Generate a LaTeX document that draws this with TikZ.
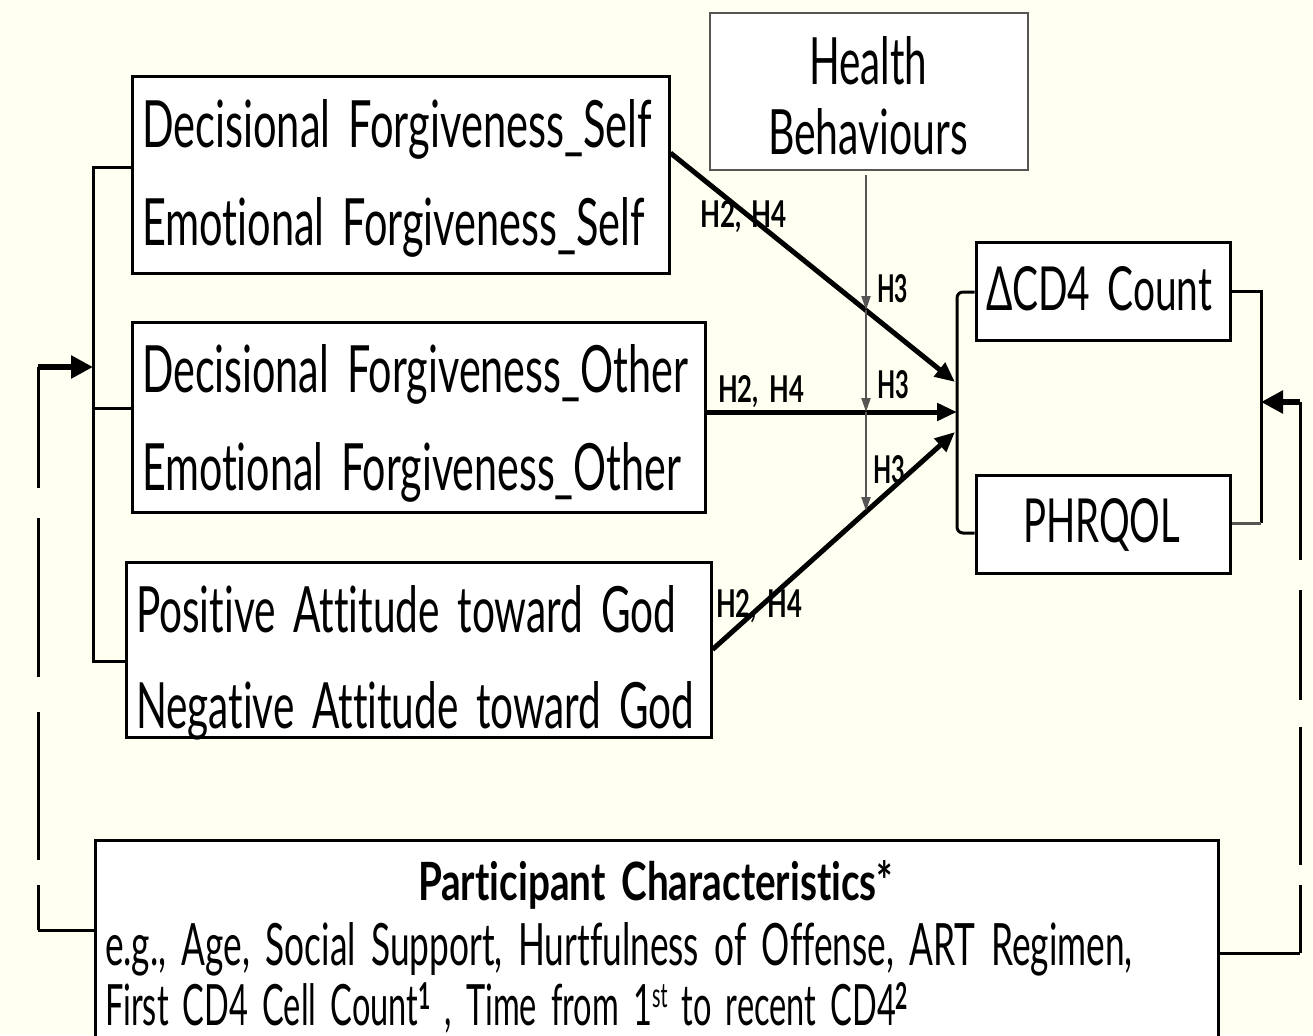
\documentclass[tikz,border=0pt]{standalone}
\usepackage{graphicx}
\usepackage{fontspec}
\setmainfont[Ligatures={CommonOff}, WordSpace=1.7]{Lato}
\usetikzlibrary{arrows.meta}
\definecolor{bgcol}{RGB}{255,255,242}
\definecolor{hbgray}{RGB}{88,84,84}
\newcommand{\fitto}[3]{\resizebox{#1pt}{#2pt}{#3}}
\newcommand{\supr}[1]{\raisebox{0.28em}{\scalebox{0.65}{\bfseries #1}}}
\newcommand{\suprr}[1]{\raisebox{0.3em}{\scalebox{0.6}{#1}}}
\tikzset{
  box/.style={draw=black, fill=white, line width=3pt, inner sep=0pt},
  hbox/.style={draw=hbgray, fill=white, line width=2.5pt, inner sep=0pt},
  lbl/.style={anchor=base west, inner sep=0pt, outer sep=0pt},
  hlbl/.style={lbl, font=\bfseries},
  bracket/.style={draw=black, line width=3pt},
  mainarrow/.style={draw=black, line width=5pt, -{Triangle[length=20pt,width=17pt]}},
  bigarrow/.style={draw=black, line width=6pt, -{Triangle[length=22pt,width=22pt]}},
  harrow/.style={draw=hbgray, line width=2pt, -{Triangle[length=14pt,width=9pt]}},
  dashl/.style={draw=black, line width=3pt, dash pattern=on 121pt off 30pt on 159pt off 35pt on 148pt off 25pt on 200pt},
  dashr/.style={draw=black, line width=3pt, dash pattern=on 158pt off 30pt on 110pt off 27pt on 138pt off 20pt on 200pt}
}
\begin{document}
\begin{tikzpicture}[x=1pt,y=-1pt]
\fill[bgcol] (0,0) rectangle (1313,1035);
\useasboundingbox (0,0) rectangle (1313,1035);

% boxes
\node[box, minimum width=537pt, minimum height=196pt] (self) at (400.5,175) {};
\node[box, minimum width=573pt, minimum height=190pt] (other) at (418.5,417) {};
\node[box, minimum width=585pt, minimum height=175pt] (god) at (418.5,649.5) {};
\node[hbox, minimum width=318pt, minimum height=157pt] (hb) at (869,91.5) {};
\node[box, minimum width=254pt, minimum height=98pt] (cd4) at (1103,291) {};
\node[box, minimum width=254pt, minimum height=98pt] (phr) at (1103,524) {};
\node[box, minimum width=1123pt, minimum height=200pt] (pc) at (656.5,940) {};

% texts
\node[lbl] (tself1) at (142,148) {\fitto{510}{48}{Decisional Forgiveness\_Self}};
\node[lbl] (tself2) at (142,245) {\fitto{503}{48}{Emotional Forgiveness\_Self}};
\node[lbl] (toth1) at (142,392) {\fitto{546}{48}{Decisional Forgiveness\_Other}};
\node[lbl] (toth2) at (142,490) {\fitto{539}{48}{Emotional Forgiveness\_Other}};
\node[lbl] (tgod1) at (136,632) {\fitto{540}{47}{Positive Attitude toward God}};
\node[lbl] (tgod2) at (136,728) {\fitto{558}{47}{Negative Attitude toward God}};
\node[lbl] (thb1) at (809,85) {\fitto{118}{48}{Health}};
\node[lbl] (thb2) at (768,155) {\fitto{200}{46}{Behaviours}};
\node[lbl] (tcd4) at (986,310) {\fitto{226}{44}{ΔCD4 Count}};
\node[lbl] (tphr) at (1023,542) {\fitto{157}{44}{PHRQOL}};
\node[lbl] (tpc1) at (418,900) {\fitto{475}{40}{\bfseries Participant Characteristics*}};
\node[lbl] (tpc2) at (105,965) {\fitto{1027}{43}{e.g., Age, Social Support, Hurtfulness of Offense, ART Regimen,}};
\node[lbl] (tpc3) at (105,1025) {\fitto{803}{43}{First CD4 Cell Count\supr{1} , Time from 1\suprr{st} to recent CD4\supr{2}}};

% left bracket
\coordinate (Lt) at (93,168);
\coordinate (Lm) at (93,408);
\coordinate (Lb) at (93,661);
\draw[bracket] (self.west |- Lt) -- (Lt) -- (Lb) -- (god.west |- Lb);
\draw[bracket] (Lm) -- (other.west |- Lm);
\coordinate (La) at (38,367);
\coordinate (Lai) at (93,367);
\coordinate (Ld) at (38,930);
\draw[dashl] (La) -- (Ld);
\draw[bracket] (Ld) -- (pc.west |- Ld);
\draw[bigarrow] (La) -- (Lai);

% right bracket
\coordinate (Rt) at (1261,291);
\coordinate (Rb) at (1261,523);
\draw[bracket] (cd4.east) -- (Rt) -- (Rb);
\draw[bracket, draw=hbgray] (Rb) -- (phr.east |- Rb);
\coordinate (Ra) at (1300,402);
\coordinate (Rai) at (1261,402);
\coordinate (Rd) at (1300,953);
\draw[dashr] (Ra) -- (Rd);
\draw[bracket] (Rd) -- (pc.east |- Rd);
\draw[bigarrow] (Ra) -- (Rai);

% outcome bracket
\coordinate (Ot) at (957,292);
\coordinate (Ob) at (957,533);
\draw[bracket, rounded corners=6pt] (cd4.west |- Ot) -- (Ot) -- (Ob) -- (phr.west |- Ob);

% main arrows
\coordinate (t1) at (955,382);
\coordinate (t2) at (957,412);
\coordinate (t3) at (955,432);
\draw[mainarrow] ([yshift=22pt]self.east) -- (t1);
\draw[mainarrow] ([yshift=5pt]other.east) -- (t2);
\draw[mainarrow] (god.east) -- (t3);

% health behaviour arrows
\coordinate (h0) at (866,175);
\coordinate (h1) at (866,310);
\coordinate (h2) at (866,412);
\coordinate (h3) at (866,511);
\draw[harrow] (h0) -- (h1);
\draw[harrow] (h1) -- (h2);
\draw[harrow] (h2) -- (h3);

% labels
\node[hlbl] (l1) at (700,227) {\fitto{87}{27}{H2, H4}};
\node[hlbl] (l2) at (718,402) {\fitto{86}{27}{H2, H4}};
\node[hlbl] (l3) at (716,617) {\fitto{86}{28}{H2, H4}};
\node[hlbl] (m1) at (877,302) {\fitto{31}{28}{H3}};
\node[hlbl] (m2) at (877,398) {\fitto{32}{28}{H3}};
\node[hlbl] (m3) at (873,483) {\fitto{32}{28}{H3}};
\end{tikzpicture}
\end{document}
